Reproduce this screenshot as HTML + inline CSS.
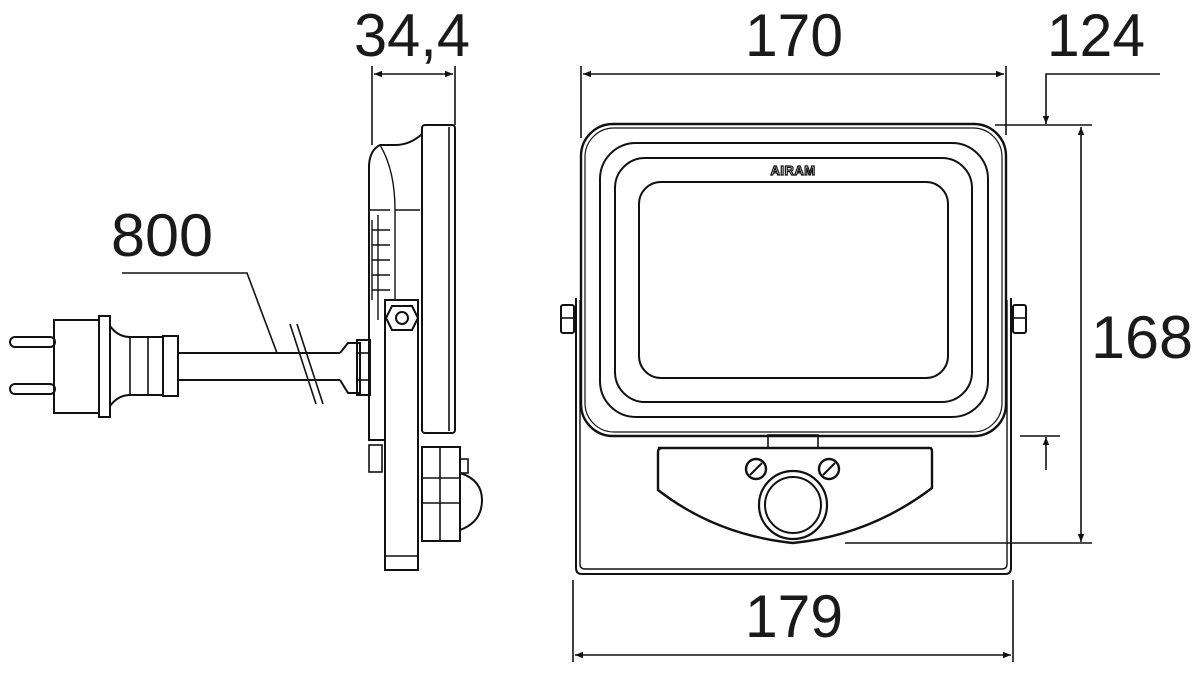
<!DOCTYPE html>
<html><head><meta charset="utf-8"><style>html,body{margin:0;padding:0;background:#fff}svg{display:block}</style></head>
<body>
<svg width="1200" height="674" viewBox="0 0 1200 674" xmlns="http://www.w3.org/2000/svg" font-family="Liberation Sans, sans-serif">
<defs>
<marker id="a" viewBox="0 0 10 10" refX="10" refY="5" markerWidth="14" markerHeight="8" orient="auto-start-reverse" markerUnits="userSpaceOnUse"><path d="M0,1 L10,5 L0,9 Z" fill="#111"/></marker>
</defs>
<g fill="#1a1a1a" font-size="60">
<text x="412" y="56" text-anchor="middle" textLength="116" lengthAdjust="spacingAndGlyphs">34,4</text>
<text x="794" y="56" text-anchor="middle" textLength="98" lengthAdjust="spacingAndGlyphs">170</text>
<text x="1096" y="56" text-anchor="middle" textLength="98" lengthAdjust="spacingAndGlyphs">124</text>
<text x="162" y="256" text-anchor="middle" textLength="102" lengthAdjust="spacingAndGlyphs">800</text>
<text x="1142" y="358" text-anchor="middle" textLength="102" lengthAdjust="spacingAndGlyphs">168</text>
<text x="794" y="637" text-anchor="middle" textLength="98" lengthAdjust="spacingAndGlyphs">179</text>
</g>
<g stroke="#111" stroke-width="1.6" fill="none">
<!-- dimension lines -->
<line x1="372" y1="66" x2="372" y2="145"/><line x1="455" y1="66" x2="455" y2="125"/>
<line x1="374" y1="74" x2="453" y2="74" marker-start="url(#a)" marker-end="url(#a)"/>
<line x1="581" y1="66" x2="581" y2="138"/><line x1="1006" y1="66" x2="1006" y2="135"/>
<line x1="583" y1="74" x2="1004" y2="74" marker-start="url(#a)" marker-end="url(#a)"/>
<polyline points="1160,74 1046,74 1046,124" marker-end="url(#a)"/>
<line x1="1046" y1="470" x2="1046" y2="437" marker-end="url(#a)"/>
<line x1="995" y1="125" x2="1092" y2="125"/><line x1="1020" y1="436" x2="1060" y2="436"/>
<line x1="1081" y1="127" x2="1081" y2="542" marker-start="url(#a)" marker-end="url(#a)"/>
<line x1="845" y1="543" x2="1092" y2="543"/>
<line x1="573" y1="580" x2="573" y2="662"/><line x1="1013" y1="580" x2="1013" y2="662"/>
<line x1="575" y1="655" x2="1011" y2="655" marker-start="url(#a)" marker-end="url(#a)"/>
<polyline points="122,273 247,273 277,353"/>

<!-- front view -->
<rect x="581" y="124" width="425" height="312" rx="32" stroke-width="2.4"/>
<rect x="585" y="128" width="417" height="304" rx="29" stroke-width="1.2"/>
<rect x="600" y="143" width="388" height="274" rx="36" stroke-width="2"/>
<rect x="615" y="158" width="357" height="244" rx="30" stroke-width="2"/>
<rect x="639" y="182" width="309" height="196" rx="22" stroke-width="2"/>
<path d="M576,298 L576,568 Q576,574 582,574 L1005,574 Q1011,574 1011,568 L1011,298" stroke-width="2"/>
<path d="M580,300 L580,564 Q580,569 585,569 L1002,569 Q1007,569 1007,564 L1007,300" stroke-width="1.4"/>
<rect x="561" y="305" width="13" height="28" rx="2" stroke-width="2"/>
<line x1="561" y1="318" x2="574" y2="318"/>
<rect x="1013" y="305" width="13" height="28" rx="2" stroke-width="2"/>
<line x1="1013" y1="318" x2="1026" y2="318"/>
<rect x="768" y="435" width="50" height="13" stroke-width="1.6"/>
<path d="M658,448 L930,448 Q932,448 932,452 L932,488 Q870,535 793,543 Q716,535 658,490 L658,452 Q658,448 662,448 Z" stroke-width="2.4"/>
<circle cx="793" cy="505" r="34" stroke-width="2.2"/>
<circle cx="793" cy="505" r="28" stroke-width="2"/>
<circle cx="756" cy="469" r="10" stroke-width="2.4"/><line x1="750" y1="475" x2="762" y2="463" stroke-width="2"/>
<circle cx="829" cy="469" r="10" stroke-width="2.4"/><line x1="823" y1="475" x2="835" y2="463" stroke-width="2"/>

<!-- side view -->
<rect x="422" y="125" width="33" height="308" rx="3" stroke-width="2"/>
<line x1="449" y1="127" x2="449" y2="431"/>
<path d="M422,134 Q410,145 395,145 L380,145 Q370,150 369,165 L369,440 L385,440" stroke-width="2"/>
<path d="M380,145 Q395,170 395,210 L420,210 M395,210 L395,300 M369,210 L390,210" stroke-width="1.4"/>
<path d="M372,220 L372,300 M378,215 L378,320 M372,230 L390,230 M372,245 L390,245 M372,260 L390,260 M372,275 L390,275 M372,290 L390,290" stroke-width="1.4"/>
<path d="M385,300 L418,300 L418,570 L385,570 Z" stroke-width="2"/>
<line x1="385" y1="556" x2="418" y2="556"/>
<polygon points="392,306 412,306 418,318 412,330 392,330 386,318" stroke-width="2"/>
<circle cx="402" cy="318" r="6" stroke-width="2"/>
<rect x="369" y="445" width="13" height="27" stroke-width="1.6"/>
<rect x="422" y="447" width="38" height="94" stroke-width="2"/>
<line x1="422" y1="478" x2="460" y2="478"/><line x1="422" y1="503" x2="460" y2="503"/><line x1="440" y1="447" x2="440" y2="541"/>
<path d="M460,473 Q482,480 482,500 Q482,522 460,530" stroke-width="2"/>
<rect x="460" y="459" width="8" height="14" stroke-width="1.6"/>
<!-- cable & plug -->
<rect x="10" y="337" width="45" height="10" rx="5" stroke-width="2"/>
<rect x="10" y="384" width="45" height="10" rx="5" stroke-width="2"/>
<rect x="54" y="320" width="45" height="93" stroke-width="2"/>
<rect x="99" y="316" width="11" height="101" stroke-width="2"/>
<path d="M110,326 Q118,337 130,337 L163,337 L163,395 L130,395 Q118,395 110,406" stroke-width="2"/>
<line x1="130" y1="337" x2="130" y2="395"/><line x1="148" y1="337" x2="148" y2="395"/>
<rect x="163" y="336" width="15" height="60" stroke-width="2"/>
<line x1="178" y1="353" x2="340" y2="353" stroke-width="2"/>
<line x1="178" y1="380" x2="340" y2="380" stroke-width="2"/>
<line x1="290" y1="324" x2="316" y2="404"/><line x1="297" y1="324" x2="323" y2="404"/>
<path d="M340,353 L348,343 L360,343 L360,393 L348,393 L340,380" stroke-width="2"/>
<rect x="357" y="340" width="13" height="55" stroke-width="2"/>
<line x1="357" y1="353" x2="370" y2="353"/><line x1="357" y1="380" x2="370" y2="380"/>
</g>
<text x="793" y="175" font-size="13" font-weight="bold" text-anchor="middle" fill="#fff" stroke="#111" stroke-width="1.2" letter-spacing="0.5">AIRAM</text>
</svg>
</body></html>
